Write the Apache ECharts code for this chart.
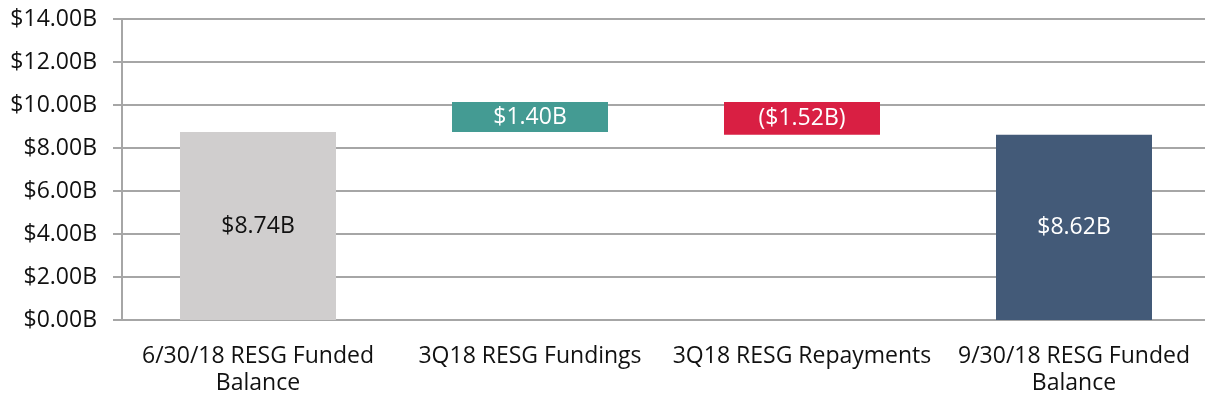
<!DOCTYPE html>
<html>
<head>
<meta charset="utf-8">
<script src="https://cdn.jsdelivr.net/npm/echarts@6/dist/echarts.min.js"></script>
<style>
  html, body { margin: 0; padding: 0; background: #fff; overflow: hidden; }
  /* plot area runs a few px past the right edge of the window, as in the original */
  #chart { width: 1210px; height: 402px; }
</style>
</head>
<body>
<div id="chart"></div>
<script>
// waterfall data, in billions
const categories = ['6/30/18 RESG Funded\nBalance', '3Q18 RESG Fundings', '3Q18 RESG Repayments', '9/30/18 RESG Funded\nBalance']
const startBalance = 8.74
const fundings = 1.40
const repayments = -1.52
const endBalance = 8.62
const barColors = ['#D0CECE', '#449B93', '#D91F43', '#435A78']
const labelColors = ['#111', '#fff', '#fff', '#fff']

const steps = [startBalance, fundings, repayments, endBalance]
let running = 0
const baseValues = []
const barValues = []
steps.forEach((v, i) => {
  if (i === 0 || i === steps.length - 1) {
    baseValues.push(0)
    barValues.push(v)
    running = v
  } else {
    const next = running + v
    baseValues.push(Math.min(running, next))
    barValues.push(Math.abs(v))
    running = next
  }
})

const fmt = v => '$' + Math.abs(v).toFixed(2) + 'B'
const fontFamily = '"Open Sans", sans-serif'

const chart = echarts.init(document.getElementById('chart'))
chart.setOption({
  animation: false,
  grid: { left: 122, right: 0, top: 19, bottom: 82 },
  xAxis: {
    type: 'category',
    data: categories,
    axisLine: { lineStyle: { color: '#A6A6A6', width: 2 } },
    axisTick: { length: 8, lineStyle: { color: '#A6A6A6', width: 2 } },
    axisLabel: {
      color: '#111', fontSize: 23, fontFamily: fontFamily,
      lineHeight: 27, margin: 23, interval: 0
    }
  },
  yAxis: {
    type: 'value',
    min: 0, max: 14, interval: 2,
    axisLine: { show: true, lineStyle: { color: '#A6A6A6', width: 2 } },
    axisTick: { show: true, length: 9, lineStyle: { color: '#A6A6A6', width: 2 } },
    splitLine: { lineStyle: { color: '#A6A6A6', width: 2 } },
    axisLabel: {
      color: '#111', fontSize: 23, fontFamily: fontFamily, margin: 25,
      formatter: v => '$' + v.toFixed(2) + 'B'
    }
  },
  series: [
    {
      type: 'bar', stack: 'w', barWidth: 156,
      itemStyle: { color: 'transparent' },
      emphasis: { disabled: true },
      data: baseValues
    },
    {
      type: 'bar', stack: 'w', barWidth: 156,
      data: barValues.map((v, i) => ({
        value: v,
        itemStyle: { color: barColors[i] },
        label: { color: labelColors[i] }
      })),
      label: {
        show: true, position: 'inside', fontSize: 23, fontFamily: fontFamily,
        formatter: p => steps[p.dataIndex] < 0 ? '(' + fmt(steps[p.dataIndex]) + ')' : fmt(steps[p.dataIndex])
      }
    }
  ]
})
</script>
</body>
</html>
